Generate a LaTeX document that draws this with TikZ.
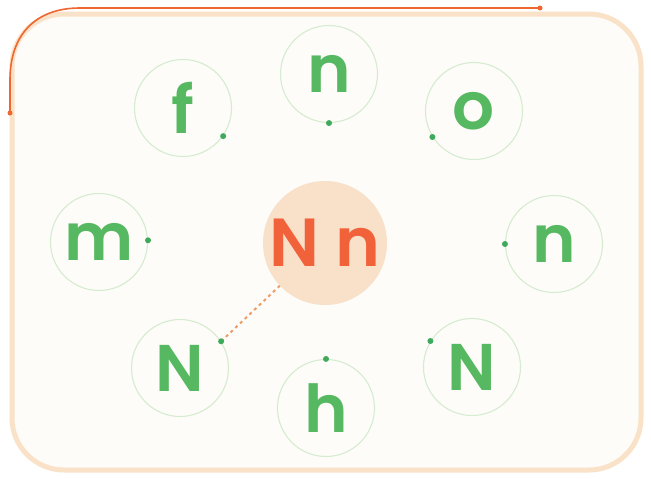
\documentclass[tikz,border=0pt]{standalone}
\usepackage{fontspec}
\setmainfont{Poppins}[BoldFont={Poppins SemiBold}]
\definecolor{lettergreen}{HTML}{56B860}
\definecolor{ringgreen}{HTML}{D6ECD0}
\definecolor{dotgreen}{HTML}{3FAA5C}
\definecolor{peach}{HTML}{F8E0C9}
\definecolor{framepeach}{HTML}{F9E2C8}
\definecolor{panel}{HTML}{FDFCF9}
\definecolor{nnorange}{HTML}{F2623A}
\definecolor{lineorange}{HTML}{EE6630}
\definecolor{dashorange}{HTML}{EE9A64}
\tikzset{
  ring/.style={circle, draw=ringgreen, line width=1.1pt, minimum size=97pt, inner sep=0pt,
    text=lettergreen, font=\fontsize{66}{66}\selectfont\bfseries},
  gdot/.style={circle, fill=dotgreen, inner sep=0pt, minimum size=6pt},
  odot/.style={circle, fill=lineorange, inner sep=0pt, minimum size=5pt},
}
\begin{document}
\begin{tikzpicture}[x=1pt,y=-1pt]
\useasboundingbox (0,0) rectangle (651,479);
\fill[white] (0,0) rectangle (651,479);
% panel
\draw[draw=framepeach, fill=panel, line width=5pt, rounded corners=52pt] (12,14) rectangle (641,470);
% orange line at top left
\coordinate (oa) at (540,8);
\coordinate (ob) at (10,113);
\draw[lineorange, line width=1.6pt] (oa) -- (80,8) .. controls (35,8) and (10,35) .. (10,80) -- (ob);
\node[odot] at (oa) {};
\node[odot] at (ob) {};
% centre
\node[circle, fill=peach, minimum size=124pt, inner sep=0pt, text=nnorange,
  font=\fontsize{68}{68}\selectfont\bfseries] (c) at (325,243) {N\hspace{0.24em}n};
% rings
\node[ring] (f) at (183,108) {f};
\node[ring] (nt) at (329,74) {n};
\node[ring] (o) at (474,111) {o};
\node[ring] (m) at (99,242) {m};
\node[ring] (nr) at (554,244) {n};
\node[ring] (Nl) at (180,368) {N};
\node[ring] (h) at (326,408) {h};
\node[ring] (Nr) at (472,367) {N};
% dots
\node[gdot] (df) at (f.-35) {};
\node[gdot] (dnt) at (nt.-90) {};
\node[gdot] (do) at (o.-148) {};
\node[gdot] (dm) at (m.2) {};
\node[gdot] (dnr) at (nr.180) {};
\node[gdot] (dh) at (h.90) {};
\node[gdot] (dNr) at (Nr.148) {};
\coordinate (dNlc) at (Nl.33);
\draw[dashorange, line width=2pt, dash pattern=on 3pt off 3.5pt] (dNlc) -- (c);
\node[gdot] (dNl) at (dNlc) {};
\end{tikzpicture}
\end{document}
